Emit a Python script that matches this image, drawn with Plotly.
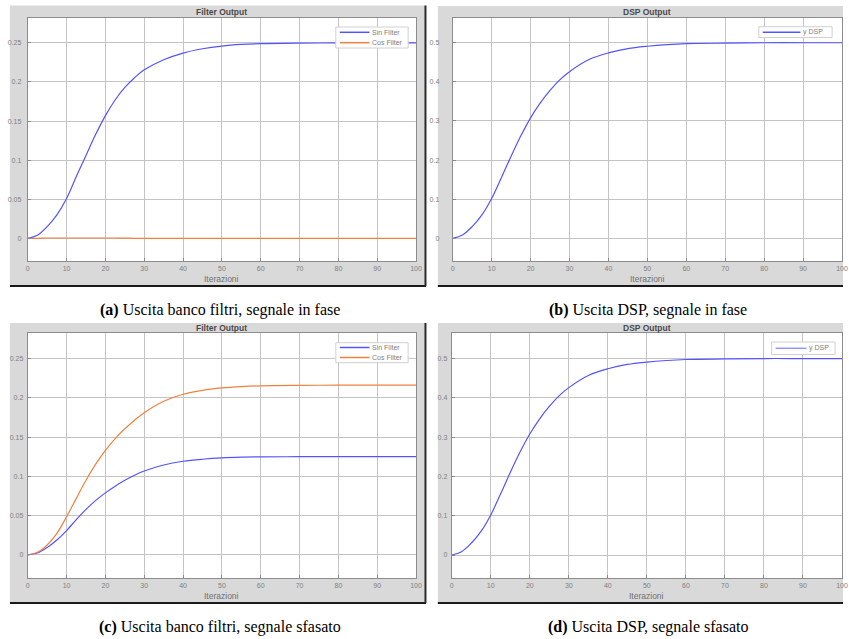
import plotly.graph_objects as go

W, H = 849, 639

# ---------------- data ----------------
iterazioni = [0, 2.5, 5, 7.5, 10, 12.5, 15, 17.5, 20, 22.5, 25, 27.5, 30,
              35, 40, 45, 50, 55, 60, 70, 80, 90, 100]

# (a) banco filtri, segnale in fase
sin_fase = [0, 0.004, 0.015, 0.030, 0.051, 0.079, 0.106, 0.133, 0.157, 0.177,
            0.193, 0.2055, 0.2155, 0.2285, 0.237, 0.2425, 0.246, 0.248, 0.249,
            0.2497, 0.25, 0.25, 0.25]
cos_fase = [0, 0, 0.0004, 0.0004, 0.0004, 0.0004, 0.0004, 0.0004, 0.0004,
            0.0004, 0.0003, 0, 0, 0, 0, 0, 0, 0, 0, 0, 0, 0, 0]

# (b) DSP, segnale in fase
dsp_fase = [0, 0.0085, 0.030, 0.060, 0.102, 0.155, 0.210, 0.262, 0.308, 0.346,
            0.378, 0.405, 0.426, 0.457, 0.474, 0.485, 0.491, 0.495, 0.4975,
            0.499, 0.5, 0.5, 0.5]

# (c) banco filtri, segnale sfasato
sin_sfasato = [0, 0.0025, 0.0095, 0.019, 0.031, 0.045, 0.058, 0.0695, 0.079,
               0.0875, 0.095, 0.1015, 0.1068, 0.1145, 0.1192, 0.1218, 0.1235,
               0.1244, 0.1248, 0.125, 0.125, 0.125, 0.125]
cos_sfasato = [0, 0.0034, 0.0127, 0.0275, 0.0487, 0.072, 0.095, 0.1155, 0.1330,
               0.148, 0.1605, 0.1715, 0.181, 0.1955, 0.2045, 0.2095, 0.2125, 0.2142,
               0.2152, 0.2158, 0.216, 0.216, 0.216]

# (d) DSP, segnale sfasato
dsp_sfasato = [0, 0.0085, 0.030, 0.060, 0.102, 0.155, 0.210, 0.262, 0.308,
               0.346, 0.378, 0.405, 0.426, 0.457, 0.474, 0.485, 0.491, 0.495,
               0.4975, 0.499, 0.5, 0.5, 0.5]

x_ticks = [0, 10, 20, 30, 40, 50, 60, 70, 80, 90, 100]

panel_titles = ["Filter Output", "DSP Output", "Filter Output", "DSP Output"]
captions = [("(a)", "Uscita banco filtri, segnale in fase"),
            ("(b)", "Uscita DSP, segnale in fase"),
            ("(c)", "Uscita banco filtri, segnale sfasato"),
            ("(d)", "Uscita DSP, segnale sfasato")]
x_label = "Iterazioni"

# ---------------- styling ----------------
BLUE = "rgb(84,84,255)"
ORANGE = "rgb(240,128,64)"
FRAME = "#d9d9d9"
GRID = "#c4c4c4"
TICKFONT = dict(family="Liberation Sans, Arial", size=7, color="#808080")


def px(x):
    return x / W


def py(y):
    return 1 - y / H


# plot-area pixel boxes: (left, right, top, bottom)
areas = [(26, 418, 17.5, 261), (455, 848, 17.5, 261),
         (26, 418, 333, 578), (454, 848, 333, 578)]
frames = [(8, 428, 5.5, 286), (440, 849, 6, 286),
          (8, 428, 323, 603), (440, 849, 323, 603)]
yranges = [[-0.029, 0.2825], [-0.058, 0.5645], [-0.0293, 0.2824], [-0.0585, 0.565]]
ydticks = [0.05, 0.1, 0.05, 0.1]
ystandoff = [4, 11, 2, 2]

fig = go.Figure()

series = [
    [("Sin Filter", sin_fase, BLUE), ("Cos Filter", cos_fase, ORANGE)],
    [("y DSP", dsp_fase, BLUE)],
    [("Sin Filter", sin_sfasato, BLUE), ("Cos Filter", cos_sfasato, ORANGE)],
    [("y DSP", dsp_sfasato, BLUE)],
]

for i, group in enumerate(series):
    xa = "x" if i == 0 else f"x{i+1}"
    ya = "y" if i == 0 else f"y{i+1}"
    for name, vals, col in group:
        fig.add_trace(go.Scatter(x=iterazioni, y=vals, mode="lines", name=name,
                                 line=dict(color=col, width=1.2, shape="spline", smoothing=1.0),
                                 xaxis=xa, yaxis=ya, showlegend=False))

shapes = []
annotations = []
layout = {}
for i in range(4):
    l, r, t, b = areas[i]
    fl, fr, ft, fb = frames[i]
    suf = "" if i == 0 else str(i + 1)
    layout["xaxis" + suf] = dict(
        domain=[px(l), px(r)], anchor="y" + suf, range=[0, 100],
        tickvals=x_ticks, showgrid=True, gridcolor=GRID, gridwidth=1,
        zeroline=False, showline=True, linecolor="#8c8c8c", linewidth=1, mirror=True,
        ticks="inside", ticklen=3, tickcolor="#8c8c8c", tickfont=TICKFONT,
        ticklabelstandoff=1)
    layout["yaxis" + suf] = dict(
        domain=[py(b), py(t)], anchor="x" + suf, range=yranges[i],
        dtick=ydticks[i], tick0=0, showgrid=True, gridcolor=GRID, gridwidth=1,
        zeroline=False, showline=True, linecolor="#8c8c8c", linewidth=1, mirror=True,
        ticks="inside", ticklen=3, tickcolor="#8c8c8c", tickfont=TICKFONT,
        ticklabelstandoff=ystandoff[i])
    # gray frame and white plot background
    shapes.append(dict(type="rect", xref="paper", yref="paper", layer="below",
                       x0=px(fl), x1=px(fr), y0=py(fb), y1=py(ft),
                       fillcolor=FRAME, line=dict(width=0)))
    shapes.append(dict(type="rect", xref="paper", yref="paper", layer="below",
                       x0=px(l), x1=px(r), y0=py(b), y1=py(t),
                       fillcolor="white", line=dict(width=0)))
    # dark shadow edges
    shapes.append(dict(type="line", xref="paper", yref="paper",
                       x0=px(fl), x1=px(fr), y0=py(fb), y1=py(fb),
                       line=dict(color="#1a1a1a", width=2)))
    if fr < 848:
        shapes.append(dict(type="line", xref="paper", yref="paper",
                           x0=px(fr - 0.5), x1=px(fr - 0.5), y0=py(fb), y1=py(ft),
                           line=dict(color="#2a2a2a", width=2)))
    # panel title
    annotations.append(dict(xref="paper", yref="paper", x=px((l + r) / 2), y=py(t - 5.5),
                            text="<b>" + panel_titles[i] + "</b>", showarrow=False,
                            xanchor="center", yanchor="middle",
                            font=dict(family="Liberation Sans, Arial", size=8.5, color="#4a4a4a")))
    # x-axis label
    annotations.append(dict(xref="paper", yref="paper", x=px((l + r) / 2), y=py(b + 18),
                            text=x_label, showarrow=False, xanchor="center", yanchor="middle",
                            font=dict(family="Liberation Sans, Arial", size=8.5, color="#707070")))
    # caption
    cap_y = 310 if i < 2 else 627
    cap_x = 220 if i % 2 == 0 else 651.7
    tag, txt = captions[i]
    annotations.append(dict(xref="paper", yref="paper", x=px(cap_x), y=py(cap_y),
                            text="<b>" + tag + "</b> " + txt, showarrow=False,
                            xanchor="center", yanchor="middle",
                            font=dict(family="Liberation Serif, Times New Roman", size=16, color="black")))

# manual legends (box, line sample, label)
legends = [
    dict(box=(337, 410, 27, 48), items=[("Sin Filter", BLUE, 32.3), ("Cos Filter", ORANGE, 42.7)],
         line=(341, 371), text_x=372),
    dict(box=(764, 838, 26.7, 37.5), items=[("y DSP", BLUE, 32.3)], line=(768, 806), text_x=807),
    dict(box=(337, 410, 342.7, 362.7), items=[("Sin Filter", BLUE, 347.5), ("Cos Filter", ORANGE, 357.5)],
         line=(341, 371), text_x=372),
    dict(box=(777, 841, 342, 354.5), items=[("y DSP", "rgb(150,150,255)", 348.3)], line=(781, 812), text_x=813),
]
for lg in legends:
    bl, br, bt, bb = lg["box"]
    shapes.append(dict(type="rect", xref="paper", yref="paper",
                       x0=px(bl), x1=px(br), y0=py(bb), y1=py(bt),
                       fillcolor="white", line=dict(color="#d0d0d0", width=1)))
    for name, col, yy in lg["items"]:
        shapes.append(dict(type="line", xref="paper", yref="paper",
                           x0=px(lg["line"][0]), x1=px(lg["line"][1]), y0=py(yy), y1=py(yy),
                           line=dict(color=col, width=1.5)))
        annotations.append(dict(xref="paper", yref="paper", x=px(lg["text_x"]), y=py(yy),
                                text=name, showarrow=False, xanchor="left", yanchor="middle",
                                font=dict(family="Liberation Sans, Arial", size=7, color="#808080")))

fig.update_layout(width=W, height=H, margin=dict(l=0, r=0, t=0, b=0),
                  paper_bgcolor="white", plot_bgcolor="white",
                  shapes=shapes, annotations=annotations, **layout)

fig.write_html("out.html")
